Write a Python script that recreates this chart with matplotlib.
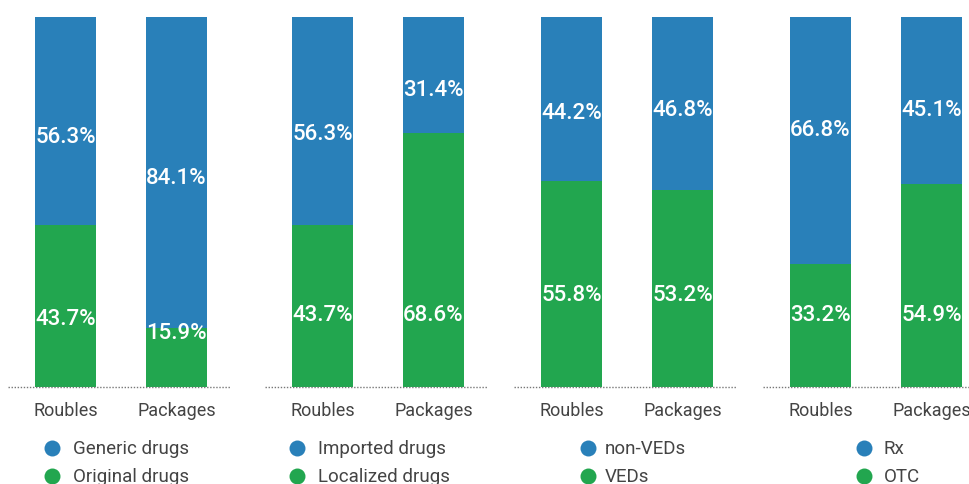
import matplotlib
matplotlib.use("Agg")
import matplotlib.pyplot as plt

plt.rcParams["font.family"] = ["Roboto", "DejaVu Sans"]

# data
categories = ["Roubles", "Packages"]
top_names = ["Generic drugs", "Imported drugs", "non-VEDs", "Rx"]
bottom_names = ["Original drugs", "Localized drugs", "VEDs", "OTC"]
top_values = [[56.3, 84.1], [56.3, 31.4], [44.2, 46.8], [66.8, 45.1]]
bottom_values = [[43.7, 15.9], [43.7, 68.6], [55.8, 53.2], [33.2, 54.9]]

# where the value labels sit (in percent of bar height)
top_label_y = [[67.6, 56.5], [68.4, 80.5], [74.3, 75.1], [69.5, 74.9]]
bottom_label_y = [[18.4, 14.6], [19.5, 19.5], [24.9, 25.1], [19.7, 19.7]]

BLUE = "#2980b9"
GREEN = "#22a64f"
W, H = 970, 485

fig = plt.figure(figsize=(W / 100, H / 100), dpi=100)

# pixel layout
bar0_px = [65.5, 322.5, 571.5, 820.5]
unit_px = 111.0
ax_w_px = 223.0
base_px, top_px = 388.0, 18.0
legend_circle_x = [52, 297, 588, 864]
legend_text_x = [73, 318, 605, 884]
legend_rows_y = [449, 477]

for i in range(4):
    left = bar0_px[i] - 57.5
    ax = fig.add_axes([left / W, (H - base_px) / H, ax_w_px / W, (base_px - top_px) / H])
    x = list(range(len(categories)))
    ax.bar(x, bottom_values[i], width=0.55, color=GREEN)
    ax.bar(x, top_values[i], width=0.55, bottom=bottom_values[i], color=BLUE)
    for j in x:
        ax.text(j, bottom_label_y[i][j], f"{bottom_values[i][j]:.1f}%", ha="center",
                va="center", color="white", fontsize=16, fontweight="medium")
        ax.text(j, top_label_y[i][j], f"{top_values[i][j]:.1f}%", ha="center",
                va="center", color="white", fontsize=16, fontweight="medium")
    ax.set_xlim(-57.5 / unit_px, (ax_w_px - 57.5) / unit_px)
    ax.set_ylim(0, 100)
    ax.axhline(0, color="#777777", lw=1, ls=(0, (1, 1.2)), clip_on=False)
    ax.set_xticks(x)
    ax.set_xticklabels(categories, fontsize=13, color="#444444")
    ax.tick_params(axis="x", length=0, pad=10)
    ax.set_yticks([])
    for s in ax.spines.values():
        s.set_visible(False)

# legends on an overlay in pixel coordinates
ov = fig.add_axes([0, 0, 1, 1])
ov.set_xlim(0, W)
ov.set_ylim(H, 0)
ov.axis("off")
for i in range(4):
    for name, col, yy in zip([top_names[i], bottom_names[i]], [BLUE, GREEN], legend_rows_y):
        ov.plot(legend_circle_x[i], yy, "o", ms=11.5, color=col, mec="none")
        ov.text(legend_text_x[i], yy, name, va="center", ha="left",
                fontsize=13.5, color="#444444")

fig.savefig("out.png", dpi=100)
